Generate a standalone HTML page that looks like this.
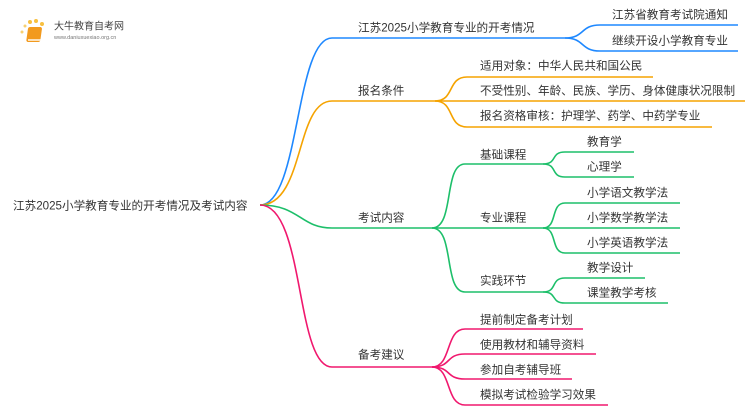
<!DOCTYPE html>
<html><head><meta charset="utf-8"><style>
html,body{margin:0;padding:0;background:#fff;width:750px;height:410px;overflow:hidden}
svg text{font-family:"Liberation Sans","Noto Sans CJK SC",sans-serif;font-size:11.6px;fill:#333;dominant-baseline:central}
</style></head><body>
<svg width="750" height="410" xmlns="http://www.w3.org/2000/svg">
<g fill="none" stroke-width="1.6">
<g stroke="#1e88ff">
<path d="M260 205 C300 205 295 38 332 38 L565 38"/>
<path d="M565 38 C585 38 580 25 600 25 L738 25"/>
<path d="M565 38 C585 38 580 51 600 51 L738 51"/>
</g>
<g stroke="#f5a300">
<path d="M260 205 C305 205 295 101 332 101 L435 101"/>
<path d="M435 101 C455 101 447 77 467 77 L653 77"/>
<path d="M435 101 L745 101"/>
<path d="M435 101 C455 101 447 127 467 127 L712 127"/>
</g>
<g stroke="#1dbf6a">
<path d="M260 205 C300 205 300 228 332 228 L432 228"/>
<path d="M432 228 C455 228 443 164 465 164 L543 164"/>
<path d="M432 228 L543 228"/>
<path d="M432 228 C455 228 443 292 465 292 L543 292"/>
<path d="M543 164 C558 164 550 152 565 152 L634 152"/>
<path d="M543 164 C558 164 550 177 565 177 L634 177"/>
<path d="M543 228 C558 228 550 203 565 203 L680 203"/>
<path d="M543 228 L680 228"/>
<path d="M543 228 C558 228 550 253 565 253 L680 253"/>
<path d="M543 292 C558 292 550 278 565 278 L645 278"/>
<path d="M543 292 C558 292 550 303 565 303 L668 303"/>
</g>
<g stroke="#f0186e">
<path d="M260 205 C305 205 295 367 332 367 L432 367"/>
<path d="M432 367 C452 367 445 329 465 329 L583 329"/>
<path d="M432 367 C452 367 445 354 465 354 L596 354"/>
<path d="M432 367 C452 367 445 379 465 379 L572 379"/>
<path d="M432 367 C452 367 445 405 465 405 L608 405"/>
</g>
</g>
<g>
<circle cx="30" cy="22" r="2" fill="#f8c040"/><circle cx="36" cy="21" r="2" fill="#f8c040"/><circle cx="42" cy="24" r="2" fill="#f8c040"/><circle cx="25" cy="26" r="1.5" fill="#f8d070"/><circle cx="22" cy="32" r="1.5" fill="#f8d070"/>
<rect x="32" y="27" width="14" height="15" rx="2" fill="#f29a1e" transform="skewX(-8)"/>
<rect x="28" y="39" width="13" height="2" fill="#fff" opacity="0.7"/>
<text x="54" y="27" style="font-size:10px;fill:#444">大牛教育自考网</text>
<text x="54" y="38" style="font-size:5.5px;fill:#777">www.daniuxuexiao.org.cn</text>
</g>
<text x="13" y="206">江苏2025小学教育专业的开考情况及考试内容</text>
<text x="358" y="28">江苏2025小学教育专业的开考情况</text>
<text x="612" y="15">江苏省教育考试院通知</text>
<text x="612" y="41">继续开设小学教育专业</text>
<text x="358" y="91">报名条件</text>
<text x="480" y="66">适用对象：中华人民共和国公民</text>
<text x="480" y="91">不受性别、年龄、民族、学历、身体健康状况限制</text>
<text x="480" y="116">报名资格审核：护理学、药学、中药学专业</text>
<text x="358" y="218">考试内容</text>
<text x="480" y="155">基础课程</text>
<text x="587" y="142">教育学</text>
<text x="587" y="167">心理学</text>
<text x="480" y="218">专业课程</text>
<text x="587" y="193">小学语文教学法</text>
<text x="587" y="218">小学数学教学法</text>
<text x="587" y="243">小学英语教学法</text>
<text x="480" y="281">实践环节</text>
<text x="587" y="268">教学设计</text>
<text x="587" y="293">课堂教学考核</text>
<text x="358" y="355">备考建议</text>
<text x="480" y="320">提前制定备考计划</text>
<text x="480" y="345">使用教材和辅导资料</text>
<text x="480" y="370">参加自考辅导班</text>
<text x="480" y="395">模拟考试检验学习效果</text>
</svg>
</body></html>
